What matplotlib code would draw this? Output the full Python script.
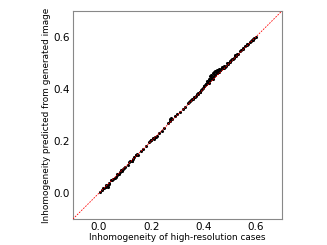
import numpy as np
import matplotlib
matplotlib.use("Agg")
import matplotlib.pyplot as plt

# inhomogeneity: high-resolution cases vs predicted from generated image
hr = [0.005, 0.01, 0.015, 0.02, 0.025, 0.03, 0.033, 0.035, 0.04, 0.045,
      0.05, 0.055, 0.06, 0.065, 0.07, 0.075, 0.08, 0.085, 0.09, 0.095,
      0.10, 0.11, 0.115, 0.12, 0.125, 0.13, 0.135, 0.14, 0.145, 0.15,
      0.16, 0.17, 0.18, 0.19, 0.195, 0.2, 0.205, 0.21, 0.215, 0.22,
      0.23, 0.24, 0.25, 0.265, 0.27, 0.275, 0.28, 0.29, 0.30, 0.31,
      0.32, 0.33, 0.34, 0.345, 0.35, 0.355, 0.36, 0.365, 0.37, 0.375,
      0.38, 0.385, 0.39, 0.395, 0.40, 0.405, 0.41, 0.415, 0.42, 0.42,
      0.425, 0.425, 0.43, 0.43, 0.435, 0.435, 0.44, 0.44, 0.445, 0.445,
      0.45, 0.45, 0.455, 0.46, 0.46, 0.465, 0.47, 0.475, 0.48, 0.485,
      0.49, 0.495, 0.50, 0.505, 0.51, 0.515, 0.52, 0.525, 0.53, 0.54,
      0.545, 0.55, 0.56, 0.565, 0.57, 0.58, 0.585, 0.59, 0.595, 0.6,
      0.028, 0.038, 0.068, 0.088, 0.128, 0.142, 0.198, 0.218, 0.272, 0.352,
      0.368, 0.378, 0.388, 0.398, 0.402, 0.408, 0.412, 0.418, 0.422, 0.428,
      0.432, 0.438, 0.442, 0.448, 0.452, 0.458, 0.462, 0.468, 0.472, 0.478,
      0.482, 0.492, 0.502, 0.512, 0.522, 0.532, 0.552, 0.568, 0.578, 0.588]
pred = [0.005, 0.012, 0.018, 0.02, 0.022, 0.028, 0.025, 0.03, 0.038, 0.05,
        0.052, 0.055, 0.058, 0.062, 0.068, 0.075, 0.082, 0.088, 0.092, 0.095,
        0.10, 0.108, 0.118, 0.125, 0.122, 0.13, 0.14, 0.145, 0.15, 0.148,
        0.162, 0.17, 0.182, 0.195, 0.2, 0.205, 0.21, 0.208, 0.215, 0.218,
        0.232, 0.24, 0.25, 0.27, 0.285, 0.29, 0.285, 0.295, 0.305, 0.31,
        0.322, 0.33, 0.345, 0.35, 0.355, 0.36, 0.362, 0.37, 0.375, 0.38,
        0.385, 0.39, 0.398, 0.4, 0.41, 0.415, 0.42, 0.43, 0.44, 0.425,
        0.435, 0.45, 0.445, 0.455, 0.44, 0.46, 0.45, 0.465, 0.47, 0.455,
        0.475, 0.46, 0.47, 0.475, 0.465, 0.475, 0.48, 0.48, 0.488, 0.49,
        0.5, 0.5, 0.505, 0.51, 0.515, 0.52, 0.53, 0.528, 0.535, 0.545,
        0.55, 0.553, 0.565, 0.57, 0.575, 0.583, 0.587, 0.593, 0.598, 0.6,
        0.032, 0.035, 0.072, 0.086, 0.125, 0.148, 0.204, 0.214, 0.278, 0.356,
        0.37, 0.382, 0.39, 0.404, 0.412, 0.418, 0.425, 0.428, 0.432, 0.44,
        0.442, 0.448, 0.458, 0.468, 0.462, 0.478, 0.472, 0.478, 0.484, 0.482,
        0.486, 0.495, 0.506, 0.514, 0.526, 0.534, 0.556, 0.572, 0.58, 0.59]

lims = [-0.1, 0.7]
ticks = [0.0, 0.2, 0.4, 0.6]

fig = plt.figure(figsize=(3.27, 2.45), dpi=100)
ax = fig.add_axes([0.223, 0.106, 0.639, 0.849])
ax.scatter(hr, pred, s=5, c='black', linewidths=0, zorder=2)
ax.plot(lims, lims, 'r--', lw=0.6, dashes=(2, 1.5), zorder=3)
ax.set_xlim(lims)
ax.set_ylim(lims)
ax.set_xticks(ticks)
ax.set_yticks(ticks)
ax.tick_params(length=0, labelsize=7.5, pad=2)
for sp in ax.spines.values():
    sp.set_color('#888888')
    sp.set_linewidth(0.8)
ax.set_xlabel('Inhomogeneity of high-resolution cases', fontsize=6.4, labelpad=1)
ax.set_ylabel('Inhomogeneity predicted from generated image', fontsize=6.4, labelpad=2)
fig.savefig('out.png', dpi=100)
